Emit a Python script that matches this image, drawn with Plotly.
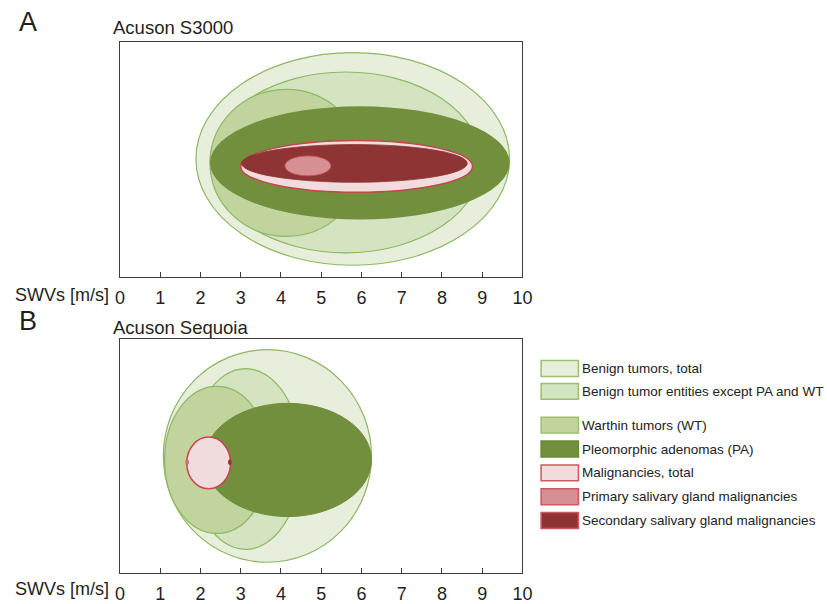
import plotly.graph_objects as go

# ---------------- data ----------------
categories = [
    "Benign tumors, total",
    "Benign tumor entities except PA and WT",
    "Warthin tumors (WT)",
    "Pleomorphic adenomas (PA)",
    "Malignancies, total",
    "Secondary salivary gland malignancies",
    "Primary salivary gland malignancies",
]
# SWV ranges [m/s] (min, max) per category
s3000_min = [1.89, 2.24, 2.24, 2.24, 3.00, 3.02, 4.10]
s3000_max = [9.68, 8.98, 6.02, 9.68, 8.76, 8.63, 5.24]
sequoia_min = [1.08, 1.74, 1.11, 2.10, 1.66, 2.70, 1.64]
sequoia_max = [6.25, 4.51, 3.71, 6.25, 2.75, 2.76, 1.70]
tick_vals = [0, 1, 2, 3, 4, 5, 6, 7, 8, 9, 10]
tick_text = ["0", "1", "2", "3", "4", "5", "6", "7", "8", "9", "10"]
legend_order = [
    "Benign tumors, total",
    "Benign tumor entities except PA and WT",
    "Warthin tumors (WT)",
    "Pleomorphic adenomas (PA)",
    "Malignancies, total",
    "Primary salivary gland malignancies",
    "Secondary salivary gland malignancies",
]

# ---------------- style ----------------
W, H = 827, 604
FONT = "Liberation Sans, Arial, sans-serif"
style = {
    "Benign tumors, total": dict(fill="#E7EFDC", line="#8DB863", lw=1.2, half=107, cA=119, cB=118),
    "Benign tumor entities except PA and WT": dict(fill="#D4E3C0", line="#8DB863", lw=1.2, half=91, cA=115.5, cB=115),
    "Warthin tumors (WT)": dict(fill="#C1D49E", line="#8DB863", lw=1.2, half=74, cA=115, cB=114),
    "Pleomorphic adenomas (PA)": dict(fill="#718F3C", line="#718F3C", lw=0, half=57, cA=115, cB=114),
    "Malignancies, total": dict(fill="#F1DCDD", line="#C4474D", lw=1.5, half=26, cA=111.5, cB=111),
    "Secondary salivary gland malignancies": dict(fill="#8E3434", line="#8E3434", lw=0.8, half=19, cA=114.5, cB=111.7, halfB=2.6),
    "Primary salivary gland malignancies": dict(fill="#D68F92", line="#C4575C", lw=0.8, half=10, cA=112, cB=111.7, halfB=2.6),
}
legend_border = {
    "Benign tumors, total": "#9BC06F",
    "Benign tumor entities except PA and WT": "#9BC06F",
    "Warthin tumors (WT)": "#9BC06F",
    "Pleomorphic adenomas (PA)": "#6A8A36",
    "Malignancies, total": "#CC5A5F",
    "Primary salivary gland malignancies": "#CC5A5F",
    "Secondary salivary gland malignancies": "#CC5A5F",
}
legend_rows = [371, 394, 428, 452, 476, 500, 524]


def px(x):
    return x / W


def py(y):
    return 1 - y / H


fig = go.Figure()

fig.add_trace(go.Scatter(x=[0, 10], y=[0, 0], mode="markers", marker=dict(opacity=0),
                         hoverinfo="skip", showlegend=False, xaxis="x", yaxis="y"))
fig.add_trace(go.Scatter(x=[0, 10], y=[0, 0], mode="markers", marker=dict(opacity=0),
                         hoverinfo="skip", showlegend=False, xaxis="x2", yaxis="y2"))

shapes = []
for i, cat in enumerate(categories):
    st = style[cat]
    shapes.append(dict(type="circle", xref="x", yref="y", layer="above",
                       x0=s3000_min[i], x1=s3000_max[i],
                       y0=st["cA"] - st["half"], y1=st["cA"] + st["half"],
                       fillcolor=st["fill"], line=dict(color=st["line"], width=st["lw"])))
for i, cat in enumerate(categories):
    st = style[cat]
    hB = st.get("halfB", st["half"])
    shapes.append(dict(type="circle", xref="x2", yref="y2", layer="above",
                       x0=sequoia_min[i], x1=sequoia_max[i],
                       y0=st["cB"] - hB, y1=st["cB"] + hB,
                       fillcolor=st["fill"], line=dict(color=st["line"], width=max(st["lw"], 1.0))))

annotations = []
for cat, yc in zip(legend_order, legend_rows):
    st = style[cat]
    shapes.append(dict(type="rect", xref="paper", yref="paper",
                       x0=px(546), x1=px(584), y0=py(yc + 8), y1=py(yc - 8),
                       fillcolor=st["fill"], line=dict(color=legend_border[cat], width=1.5)))
    annotations.append(dict(xref="paper", yref="paper", x=px(586), y=py(yc),
                            xanchor="left", yanchor="middle", text=cat, showarrow=False,
                            font=dict(family=FONT, size=13.5, color="#222")))

annotations += [
    dict(xref="paper", yref="paper", x=px(12), y=py(22), xanchor="left", yanchor="middle",
         text="A", showarrow=False, font=dict(family=FONT, size=27, color="#231f20")),
    dict(xref="paper", yref="paper", x=px(12), y=py(323), xanchor="left", yanchor="middle",
         text="B", showarrow=False, font=dict(family=FONT, size=27, color="#231f20")),
    dict(xref="paper", yref="paper", x=px(108), y=py(28), xanchor="left", yanchor="middle",
         text="Acuson S3000", showarrow=False, font=dict(family=FONT, size=18.5, color="#231f20")),
    dict(xref="paper", yref="paper", x=px(108), y=py(330), xanchor="left", yanchor="middle",
         text="Acuson Sequoia", showarrow=False, font=dict(family=FONT, size=18.5, color="#231f20")),
    dict(xref="paper", yref="paper", x=px(108), y=py(297), xanchor="right", yanchor="middle",
         text="SWVs [m/s]", showarrow=False, font=dict(family=FONT, size=18, color="#231f20")),
    dict(xref="paper", yref="paper", x=px(108), y=py(593), xanchor="right", yanchor="middle",
         text="SWVs [m/s]", showarrow=False, font=dict(family=FONT, size=18, color="#231f20")),
]

xdom = [px(117), px(527)]
xax = dict(domain=xdom, range=[0, 10], showgrid=False, zeroline=False, showline=True,
           mirror=True, linecolor="#3c3c3c", linewidth=1, ticks="inside", ticklen=5,
           tickcolor="#3c3c3c", tickwidth=1, tickvals=tick_vals, ticktext=tick_text,
           tickfont=dict(family=FONT, size=18, color="#231f20"), ticklabelstandoff=4,
           fixedrange=True)
yax = dict(showgrid=False, zeroline=False, showline=True, mirror=True, linecolor="#3c3c3c",
           linewidth=1, showticklabels=False, ticks="", fixedrange=True)

fig.update_layout(
    width=W, height=H, autosize=False,
    margin=dict(l=0, r=0, t=0, b=0),
    paper_bgcolor="white", plot_bgcolor="white",
    showlegend=False,
    xaxis=dict(xax, anchor="y"),
    yaxis=dict(yax, domain=[py(279), py(42)], range=[0, 237], anchor="x"),
    xaxis2=dict(xax, anchor="y2"),
    yaxis2=dict(yax, domain=[py(577), py(341)], range=[0, 236], anchor="x2"),
    shapes=shapes,
    annotations=annotations,
)

fig.write_html("out.html", config={"displayModeBar": False},
               post_script="document.body.style.margin='0';document.body.style.overflow='hidden';")
